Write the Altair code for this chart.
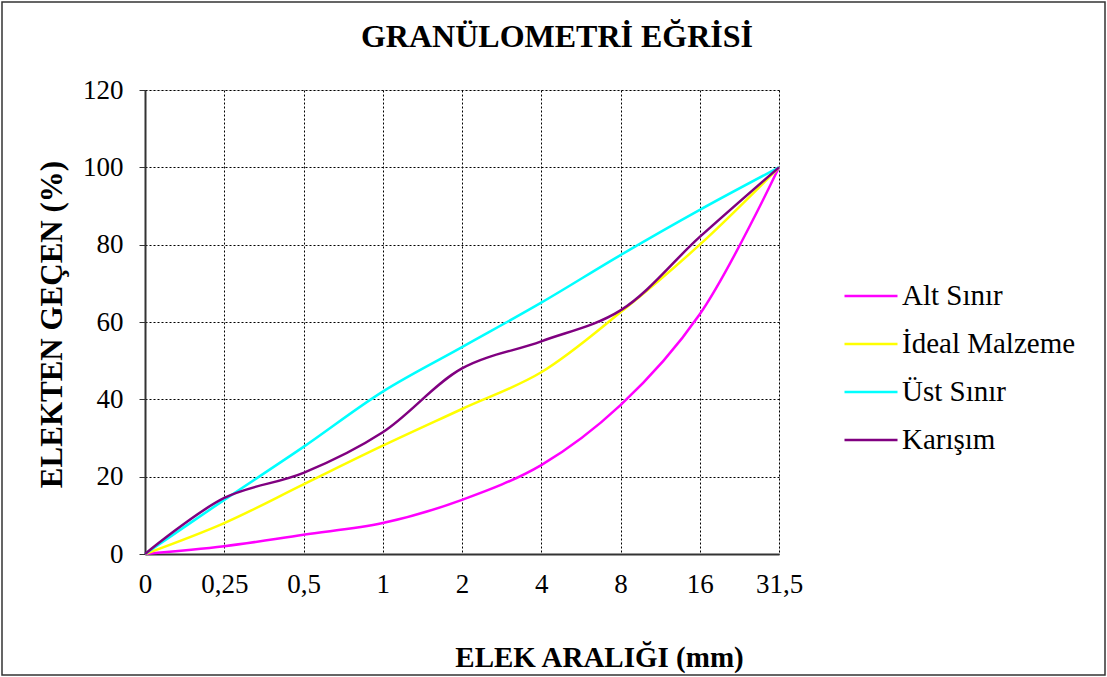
import altair as alt
import pandas as pd

sieves = ["0", "0,25", "0,5", "1", "2", "4", "8", "16", "31,5"]
alt_sinir = [0, 2, 5, 8, 14, 23, 38.5, 62, 100]
ideal = [0, 8, 18, 28, 37.5, 47, 62.5, 80, 100]
ust_sinir = [0, 14, 27.7, 42, 53.5, 65, 77.3, 89, 100]
karisim = [0, 14.5, 21, 31.5, 48, 55, 63, 82, 100]

series_names = ["Alt Sınır", "İdeal Malzeme", "Üst Sınır", "Karışım"]
series_colors = ["#FF00FF", "#FFFF00", "#00FFFF", "#800080"]
chart_title = ["GRANÜLOMETRİ EĞRİSİ"]

rows = []
for name, vals in zip(series_names, [alt_sinir, ideal, ust_sinir, karisim]):
    for s, v in zip(sieves, vals):
        rows.append({"elek": s, "gecen": v, "seri": name})
df = pd.DataFrame(rows)

W, H = 634, 464
FONT = "Liberation Serif"

lines = alt.Chart(df).mark_line(interpolate="catmull-rom", strokeWidth=2.5).encode(
    x=alt.X("elek:N", sort=sieves,
            scale=alt.Scale(type="point", padding=0),
            axis=alt.Axis(title="ELEK ARALIĞI (mm)", labelAngle=0, ticks=False,
                          labelPadding=17, labelFontSize=27, labelFont=FONT,
                          labelColor="black", domainColor="#333333", domainWidth=2,
                          grid=True, gridColor="black", gridDash=[2, 2], gridWidth=1,
                          titleFont=FONT, titleFontSize=29, titleFontWeight="bold",
                          titleColor="black", titleX=454, titleY=112,
                          titleAlign="center", titleBaseline="alphabetic")),
    y=alt.Y("gecen:Q",
            scale=alt.Scale(domain=[0, 120]),
            axis=alt.Axis(title="ELEKTEN GEÇEN (%)", values=[0, 20, 40, 60, 80, 100, 120],
                          tickSize=6, tickColor="#333333", labelPadding=16,
                          labelFontSize=27, labelFont=FONT, labelColor="black",
                          domainColor="#333333", domainWidth=2,
                          grid=True, gridColor="black", gridDash=[2, 2], gridWidth=1,
                          titleFont=FONT, titleFontSize=31, titleFontWeight="bold",
                          titleColor="black", titleAngle=270, titleX=-77, titleY=234,
                          titleAlign="center", titleBaseline="bottom")),
    color=alt.Color("seri:N", sort=series_names,
                    scale=alt.Scale(domain=series_names, range=series_colors),
                    legend=alt.Legend(title=None, orient="none", legendX=698, legendY=178,
                                      symbolType="stroke", symbolSize=2809,
                                      symbolStrokeWidth=2.5, labelFont=FONT,
                                      labelFontSize=29, labelColor="black",
                                      labelLimit=400,
                                      rowPadding=5, labelOffset=3)),
)

title_text = alt.Chart(pd.DataFrame({"t": chart_title})).mark_text(
    font=FONT, fontSize=32, fontWeight="bold", color="black",
    align="center", baseline="alphabetic"
).encode(text="t:N", x=alt.value(412), y=alt.value(-43))

frame = alt.Chart(pd.DataFrame({"k": [0]})).mark_rect(
    fill=None, stroke="#333333", strokeWidth=1.5
).encode(
    x=alt.value(-143), x2=alt.value(W + 326),
    y=alt.value(-88), y2=alt.value(H + 121),
)

chart = alt.layer(lines, title_text, frame).properties(
    width=W, height=H,
    autosize=alt.AutoSizeParams(type="none"),
    padding={"left": 145, "top": 90, "right": 328, "bottom": 123},
).configure_view(
    fill="#C0C0C0", stroke="#808080", strokeWidth=2
).configure_legend(
    labelFont=FONT
).configure(background="white", font=FONT)

chart.save("out.html", embed_options={"renderer": "svg", "actions": False})
